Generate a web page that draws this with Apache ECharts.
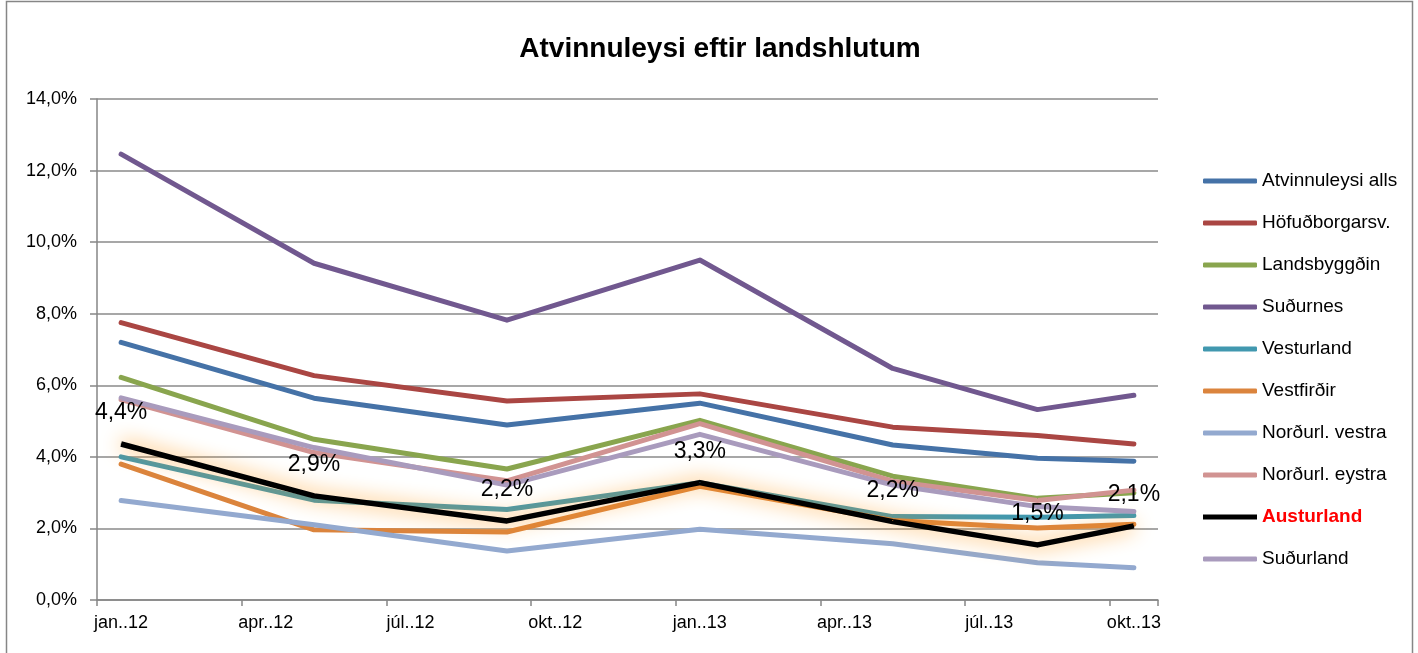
<!DOCTYPE html>
<html>
<head>
<meta charset="utf-8">
<script src="https://cdn.jsdelivr.net/npm/echarts@6/dist/echarts.min.js"></script>
<style>
html,body{margin:0;padding:0;background:#fff;}
#chart{width:1418px;height:653px;}
</style>
</head>
<body>
<div id="chart"></div>
<script>
const categories = ['jan..12','feb..12','mar..12','apr..12','maí..12','jún..12','júl..12','ágú..12','sep..12','okt..12','nóv..12','des..12',
  'jan..13','feb..13','mar..13','apr..13','maí..13','jún..13','júl..13','ágú..13','sep..13','okt..13'];
const obsMonths = ['jan..12','maí..12','sep..12','jan..13','maí..13','ágú..13','okt..13'];

const seriesNames = ['Atvinnuleysi alls','Höfuðborgarsv.','Landsbyggðin','Suðurnes','Vesturland','Vestfirðir','Norðurl. vestra','Norðurl. eystra','Austurland','Suðurland'];

const atvinnuleysiAlls = [7.20, 5.64, 4.89, 5.50, 4.33, 3.96, 3.88];
const hofudborgarsv    = [7.75, 6.27, 5.56, 5.76, 4.83, 4.60, 4.36];
const landsbyggdin     = [6.22, 4.49, 3.66, 5.02, 3.46, 2.84, 3.00];
const sudurnes         = [12.46, 9.41, 7.82, 9.50, 6.47, 5.32, 5.72];
const vesturland       = [4.00, 2.79, 2.53, 3.28, 2.33, 2.31, 2.36];
const vestfirdir       = [3.80, 1.96, 1.90, 3.18, 2.22, 2.01, 2.12];
const nordurlVestra    = [2.78, 2.10, 1.37, 1.98, 1.57, 1.04, 0.90];
const nordurlEystra    = [5.60, 4.12, 3.33, 4.93, 3.32, 2.78, 3.07];
const austurland       = [4.36, 2.91, 2.21, 3.28, 2.19, 1.54, 2.07];
const sudurland        = [5.65, 4.26, 3.21, 4.63, 3.21, 2.61, 2.47];

const yTicks = [0, 2, 4, 6, 8, 10, 12, 14];

const allValues = [atvinnuleysiAlls, hofudborgarsv, landsbyggdin, sudurnes, vesturland, vestfirdir, nordurlVestra, nordurlEystra, austurland, sudurland];
const colors = ['#4572A7','#AA4643','#89A54E','#71588F','#4198AF','#DB843D','#93A9CF','#D19392','#000000','#A99BBD'];

function expand(vals) {
  return categories.map(c => {
    const i = obsMonths.indexOf(c);
    return i >= 0 ? vals[i] : null;
  });
}
function fmt(v) { return v.toFixed(1).replace('.', ',') + '%'; }

const FONT = '"Liberation Sans", Arial, sans-serif';

const series = seriesNames.map((name, k) => {
  const isA = name === 'Austurland';
  const s = {
    name: name,
    type: 'line',
    data: expand(allValues[k]),
    connectNulls: true,
    symbol: 'circle',
    symbolSize: 1,
    showSymbol: true,
    itemStyle: { color: colors[k] },
    lineStyle: {
      color: colors[k],
      width: 5,
      cap: 'round',
      join: 'round'
    },
    emphasis: { disabled: true },
    silent: true
  };
  if (isA) {
    s.lineStyle.width = 5.5;
    s.lineStyle.cap = 'butt';
    s.lineStyle.shadowColor = 'rgba(255,150,20,1)';
    s.lineStyle.shadowBlur = 20;
    s.label = {
      show: true,
      position: 'top',
      distance: 19,
      fontFamily: FONT,
      fontSize: 23,
      color: '#000',
      formatter: p => (p.value == null ? '' : fmt(p.value))
    };
  }
  return s;
});

const legendData = seriesNames.map((name) => {
  const item = { name: name };
  if (name === 'Austurland') {
    item.textStyle = { color: '#FF0000', fontWeight: 'bold' };
    item.icon = 'rect';
  }
  return item;
});

const chart = echarts.init(document.getElementById('chart'), null, { renderer: 'canvas' });
chart.setOption({
  animation: false,
  backgroundColor: '#ffffff',
  title: {
    text: 'Atvinnuleysi eftir landshlutum',
    left: 715,
    textAlign: 'center',
    top: 30,
    textStyle: { fontFamily: FONT, fontSize: 28, fontWeight: 'bold', color: '#000' }
  },
  graphic: [{
    type: 'rect',
    shape: { x: 6.5, y: 1.5, width: 1406, height: 700 },
    style: { fill: 'none', stroke: '#868686', lineWidth: 1.5 },
    silent: true
  }],
  legend: {
    orient: 'vertical',
    left: 1198,
    top: 166,
    itemWidth: 54,
    itemHeight: 5,
    itemGap: 22,
    icon: 'roundRect',
    textStyle: { fontFamily: FONT, fontSize: 19, color: '#000', lineHeight: 20 },
    data: legendData,
    selectedMode: false
  },
  grid: { left: 97, right: 260, top: 99, bottom: 53, containLabel: false },
  xAxis: {
    type: 'category',
    data: categories,
    boundaryGap: true,
    axisLine: { show: true, lineStyle: { color: '#868686', width: 1.5 } },
    axisTick: { show: true, interval: 2, length: 6, lineStyle: { color: '#868686', width: 1.5 } },
    axisLabel: { interval: 2, margin: 14, fontFamily: FONT, fontSize: 18, color: '#000' },
    splitLine: { show: false }
  },
  yAxis: {
    type: 'value',
    min: yTicks[0],
    max: yTicks[yTicks.length - 1],
    interval: 2,
    axisLine: { show: true, lineStyle: { color: '#868686', width: 1.5 } },
    axisTick: { show: true, length: 7, lineStyle: { color: '#868686', width: 1.5 } },
    axisLabel: { margin: 20, fontFamily: FONT, fontSize: 18, color: '#000', formatter: v => fmt(v) },
    splitLine: { show: true, lineStyle: { color: '#8a8a8a', width: 1.5 } }
  },
  series: series
});
</script>
</body>
</html>
